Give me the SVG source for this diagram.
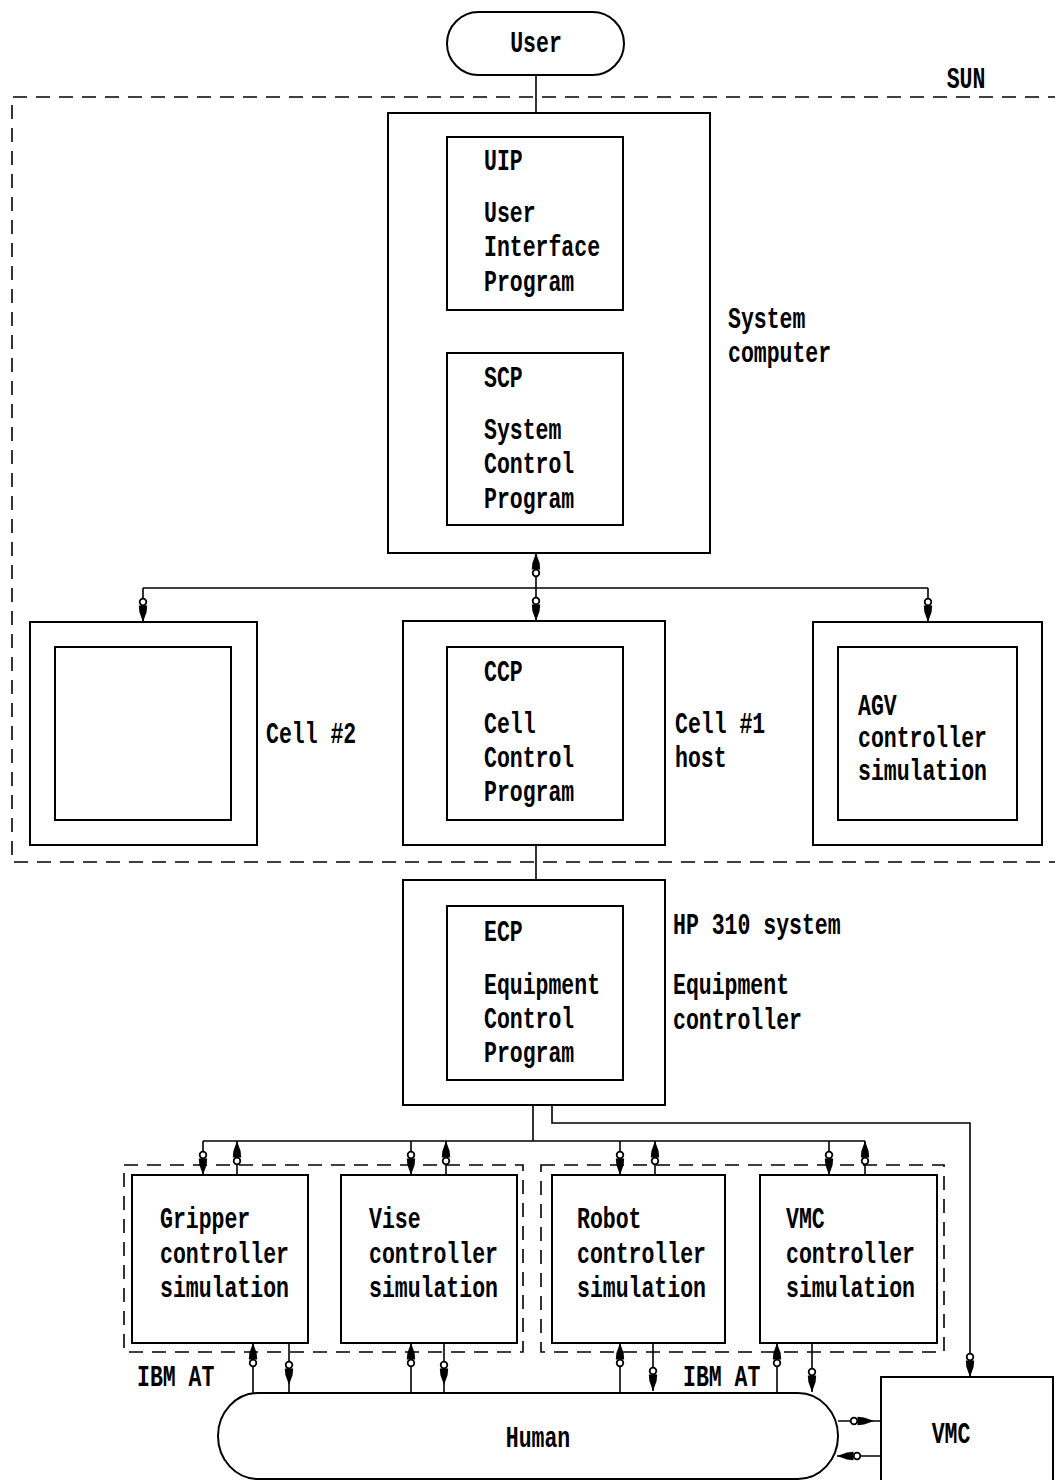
<svg xmlns="http://www.w3.org/2000/svg" width="1055" height="1480" viewBox="0 0 1055 1480">
  <style>
    .bx { fill: #fff; stroke: #000; stroke-width: 2; }
    .in { fill: none; stroke: #000; stroke-width: 2; }
    .dash { fill: none; stroke: #000; stroke-width: 1.6; stroke-dasharray: 14 9; }
    .ln { fill: none; stroke: #000; stroke-width: 1.6; }
    text { font-family: "Liberation Mono", "DejaVu Sans Mono", monospace; font-weight: bold; font-size: 21.5px; fill: #000; }
    .c { text-anchor: middle; }
  </style>
  <defs>
    <!-- feathered arrowhead: open ring behind a slim solid wedge -->
    <marker id="ah" markerUnits="userSpaceOnUse" markerWidth="26" markerHeight="14" viewBox="0 0 26 14" refX="25" refY="7" orient="auto">
      <circle cx="5" cy="7" r="3.3" fill="#fff" stroke="#000" stroke-width="1.8"/>
      <path d="M8.5,2.8 L15,3.4 L25,7 L15,10.6 L8.5,11.2 Z" fill="#000"/>
    </marker>
  </defs>

  <!-- enclosing machine frames -->
  <g id="sun-frame">
    <path class="dash" d="M1062,97 H12 V862 H1062"/>
    <text class="c" transform="translate(966 88) scale(1 1.4)">SUN</text>
  </g>
  <g id="ibm-at-left">
    <rect class="dash" x="124" y="1165" width="399" height="187"/>
    <text transform="translate(137 1386) scale(1 1.4)">IBM AT</text>
  </g>
  <g id="ibm-at-right">
    <rect class="dash" x="541" y="1165" width="403" height="187"/>
    <text transform="translate(683 1386) scale(1 1.4)">IBM AT</text>
  </g>

  <!-- connectors -->
  <g id="connectors">
    <path class="ln" d="M536,75 V113"/>
    <path class="ln" d="M536,310 V353"/>
    <path class="ln" d="M143,588 H928"/>
    <path class="ln" d="M536,588 V553" marker-end="url(#ah)"/>
    <path class="ln" d="M143,588 V622" marker-end="url(#ah)"/>
    <path class="ln" d="M536,588 V621" marker-end="url(#ah)"/>
    <path class="ln" d="M928,588 V622" marker-end="url(#ah)"/>
    <path class="ln" d="M536,845 V880"/>
    <path class="ln" d="M533,1105 V1141"/>
    <path class="ln" d="M203,1141 H865"/>
    <path class="ln" d="M552,1105 V1123 H970 V1377" marker-end="url(#ah)"/>
    <!-- ECP bus to controller boxes -->
    <path class="ln" d="M203,1141 V1175" marker-end="url(#ah)"/>
    <path class="ln" d="M237,1175 V1141" marker-end="url(#ah)"/>
    <path class="ln" d="M411,1141 V1175" marker-end="url(#ah)"/>
    <path class="ln" d="M446,1175 V1141" marker-end="url(#ah)"/>
    <path class="ln" d="M620,1141 V1175" marker-end="url(#ah)"/>
    <path class="ln" d="M655,1175 V1141" marker-end="url(#ah)"/>
    <path class="ln" d="M829,1141 V1175" marker-end="url(#ah)"/>
    <path class="ln" d="M865,1175 V1141" marker-end="url(#ah)"/>
    <!-- controller boxes to Human -->
    <path class="ln" d="M253,1393 V1343" marker-end="url(#ah)"/>
    <path class="ln" d="M289,1343 V1385 V1393" marker-mid="url(#ah)"/>
    <path class="ln" d="M411,1393 V1343" marker-end="url(#ah)"/>
    <path class="ln" d="M444,1343 V1385 V1393" marker-mid="url(#ah)"/>
    <path class="ln" d="M620,1393 V1343" marker-end="url(#ah)"/>
    <path class="ln" d="M653,1343 V1391" marker-end="url(#ah)"/>
    <path class="ln" d="M777,1393 V1343" marker-end="url(#ah)"/>
    <path class="ln" d="M812,1343 V1392" marker-end="url(#ah)"/>
    <!-- Human and VMC -->
    <path class="ln" d="M838,1421 H874 H881" marker-mid="url(#ah)"/>
    <path class="ln" d="M881,1456 H837" marker-end="url(#ah)"/>
  </g>

  <!-- nodes -->
  <g id="user">
    <rect class="bx" x="447" y="12" width="177" height="63" rx="31.5"/>
    <text class="c" transform="translate(536 52) scale(1 1.4)">User</text>
  </g>

  <g id="system-computer">
    <rect class="bx" x="388" y="113" width="322" height="440"/>
    <text transform="translate(728 328) scale(1 1.4)">System</text>
    <text transform="translate(728 362) scale(1 1.4)">computer</text>
  </g>
  <g id="uip">
    <rect class="in" x="447" y="137" width="176" height="173"/>
    <text transform="translate(484 170) scale(1 1.4)">UIP</text>
    <text transform="translate(484 222) scale(1 1.4)">User</text>
    <text transform="translate(484 256) scale(1 1.4)">Interface</text>
    <text transform="translate(484 291) scale(1 1.4)">Program</text>
  </g>
  <g id="scp">
    <rect class="in" x="447" y="353" width="176" height="172"/>
    <text transform="translate(484 387) scale(1 1.4)">SCP</text>
    <text transform="translate(484 439) scale(1 1.4)">System</text>
    <text transform="translate(484 473) scale(1 1.4)">Control</text>
    <text transform="translate(484 508) scale(1 1.4)">Program</text>
  </g>

  <g id="cell-2">
    <rect class="bx" x="30" y="622" width="227" height="223"/>
    <rect class="in" x="55" y="647" width="176" height="173"/>
    <text transform="translate(266 743) scale(1 1.4)">Cell #2</text>
  </g>
  <g id="cell-1">
    <rect class="bx" x="403" y="621" width="262" height="224"/>
    <rect class="in" x="447" y="647" width="176" height="173"/>
    <text transform="translate(484 681) scale(1 1.4)">CCP</text>
    <text transform="translate(484 733) scale(1 1.4)">Cell</text>
    <text transform="translate(484 767) scale(1 1.4)">Control</text>
    <text transform="translate(484 801) scale(1 1.4)">Program</text>
    <text transform="translate(675 733) scale(1 1.4)">Cell #1</text>
    <text transform="translate(675 767) scale(1 1.4)">host</text>
  </g>
  <g id="agv">
    <rect class="bx" x="813" y="622" width="229" height="223"/>
    <rect class="in" x="838" y="647" width="179" height="173"/>
    <text transform="translate(858 715) scale(1 1.4)">AGV</text>
    <text transform="translate(858 747) scale(1 1.4)">controller</text>
    <text transform="translate(858 780) scale(1 1.4)">simulation</text>
  </g>

  <g id="ecp">
    <rect class="bx" x="403" y="880" width="262" height="225"/>
    <rect class="in" x="447" y="906" width="176" height="174"/>
    <text transform="translate(484 941) scale(1 1.4)">ECP</text>
    <text transform="translate(484 994) scale(1 1.4)">Equipment</text>
    <text transform="translate(484 1028) scale(1 1.4)">Control</text>
    <text transform="translate(484 1062) scale(1 1.4)">Program</text>
    <text transform="translate(673 934) scale(1 1.4)">HP 310 system</text>
    <text transform="translate(673 994) scale(1 1.4)">Equipment</text>
    <text transform="translate(673 1029) scale(1 1.4)">controller</text>
  </g>

  <g id="gripper">
    <rect class="bx" x="132" y="1175" width="176" height="168"/>
    <text transform="translate(160 1228) scale(1 1.4)">Gripper</text>
    <text transform="translate(160 1263) scale(1 1.4)">controller</text>
    <text transform="translate(160 1297) scale(1 1.4)">simulation</text>
  </g>
  <g id="vise">
    <rect class="bx" x="341" y="1175" width="176" height="168"/>
    <text transform="translate(369 1228) scale(1 1.4)">Vise</text>
    <text transform="translate(369 1263) scale(1 1.4)">controller</text>
    <text transform="translate(369 1297) scale(1 1.4)">simulation</text>
  </g>
  <g id="robot">
    <rect class="bx" x="552" y="1175" width="173" height="168"/>
    <text transform="translate(577 1228) scale(1 1.4)">Robot</text>
    <text transform="translate(577 1263) scale(1 1.4)">controller</text>
    <text transform="translate(577 1297) scale(1 1.4)">simulation</text>
  </g>
  <g id="vmc-controller">
    <rect class="bx" x="760" y="1175" width="177" height="168"/>
    <text transform="translate(786 1228) scale(1 1.4)">VMC</text>
    <text transform="translate(786 1263) scale(1 1.4)">controller</text>
    <text transform="translate(786 1297) scale(1 1.4)">simulation</text>
  </g>

  <g id="human">
    <rect class="bx" x="218" y="1393" width="620" height="86" rx="40" ry="43"/>
    <text class="c" transform="translate(538 1447) scale(1 1.4)">Human</text>
  </g>
  <g id="vmc">
    <rect class="bx" x="881" y="1377" width="172" height="120"/>
    <text class="c" transform="translate(951 1443) scale(1 1.4)">VMC</text>
  </g>
</svg>
